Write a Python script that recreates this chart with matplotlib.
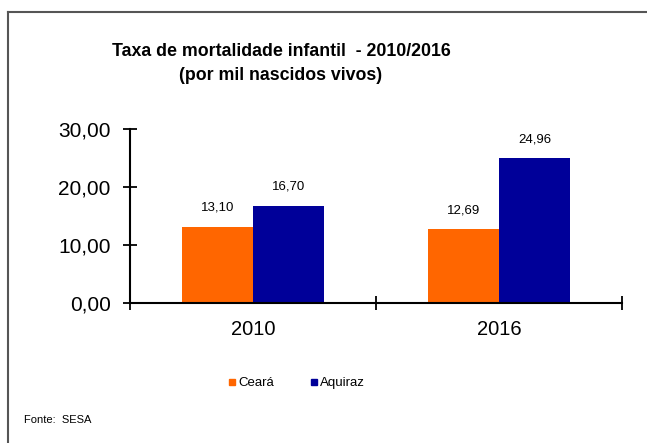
import matplotlib.pyplot as plt
from matplotlib.lines import Line2D
import numpy as np

# Dados
anos = ["2010", "2016"]
ceara = [13.10, 12.69]
aquiraz = [16.70, 24.96]
series_nomes = ["Ceará", "Aquiraz"]
cores = ["#FF6600", "#000099"]

plt.rcParams['font.family'] = ['Liberation Sans', 'DejaVu Sans']


def fmt(v):
    return f"{v:.2f}".replace(".", ",")


fig = plt.figure(figsize=(6.47, 4.43), dpi=100)
ax = fig.add_axes([130 / 647, 1 - 303 / 443, 492 / 647, 174 / 443])

x = np.arange(len(anos))
w = 0.288
b1 = ax.bar(x - w / 2, ceara, w, color=cores[0])
b2 = ax.bar(x + w / 2, aquiraz, w, color=cores[1])

for barras, vals in [(b1, ceara), (b2, aquiraz)]:
    for r, v in zip(barras, vals):
        ax.annotate(fmt(v), (r.get_x() + r.get_width() / 2, v),
                    xytext=(0, 9.5), textcoords="offset points",
                    ha="center", va="bottom", fontsize=9.5)

ax.set_xlim(-0.5, 1.5)
ax.set_ylim(0, 30)
ax.set_yticks([0, 10, 20, 30])
ax.set_yticklabels([fmt(v) for v in [0, 10, 20, 30]], fontsize=15)
ax.set_xticks(x)
ax.set_xticklabels(anos, fontsize=14.5)
ax.set_xticks([-0.5, 0.5, 1.5], minor=True)
ax.tick_params(axis="x", which="major", length=0, pad=12)
ax.tick_params(axis="x", which="minor", direction="inout", length=10, width=1.3)
ax.tick_params(axis="y", direction="inout", length=10, width=1.3, pad=9)
for s in ["top", "right"]:
    ax.spines[s].set_visible(False)
for s in ["left", "bottom"]:
    ax.spines[s].set_linewidth(1.5)

fig.text(281 / 647, 1 - 52 / 443, "Taxa de mortalidade infantil  - 2010/2016",
         ha="center", va="center", fontsize=12.8, fontweight="bold")
fig.text(281 / 647, 1 - 76 / 443, "(por mil nascidos vivos)",
         ha="center", va="center", fontsize=12.8, fontweight="bold")

handles = [Line2D([], [], marker="s", linestyle="none", color=c, markersize=5)
           for c in cores]
leg = fig.legend(handles, series_nomes, loc="center", ncol=2,
                 bbox_to_anchor=(295 / 647, 1 - 383 / 443), frameon=False,
                 handletextpad=0.0, columnspacing=2.5, handlelength=1.0,
                 prop={"size": 9.5})

fig.text(24 / 647, 1 - 420 / 443, "Fonte:  SESA", ha="left", va="center",
         fontsize=8)

# moldura (só topo e esquerda visíveis)
fig.add_artist(Line2D([7.5 / 647, 7.5 / 647], [0, 1 - 12 / 443],
                      transform=fig.transFigure, color="#555555", lw=1.5))
fig.add_artist(Line2D([7.5 / 647, 1], [1 - 12 / 443, 1 - 12 / 443],
                      transform=fig.transFigure, color="#555555", lw=1.5))

fig.savefig("out.png", dpi=100)
